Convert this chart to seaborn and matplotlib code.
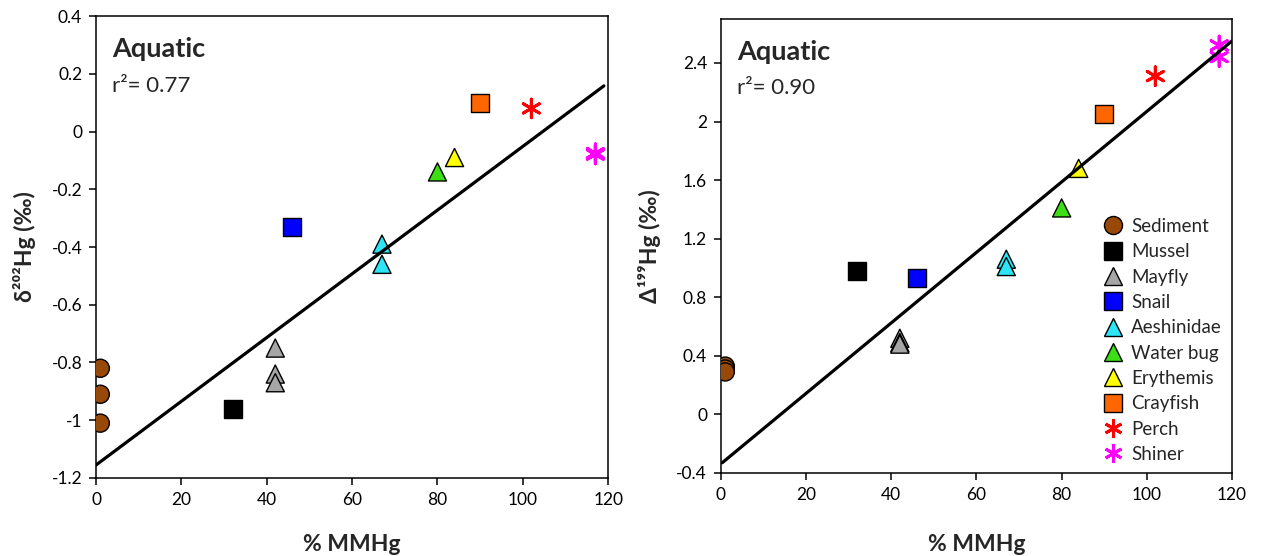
import matplotlib
matplotlib.use("Agg")
import matplotlib.pyplot as plt
from matplotlib.lines import Line2D
from matplotlib.ticker import FixedLocator, FuncFormatter
import pandas as pd
import seaborn as sns

# ---- data -------------------------------------------------------------
taxon = ["Sediment", "Sediment", "Sediment", "Mussel", "Mayfly", "Mayfly", "Mayfly",
         "Snail", "Aeshinidae", "Aeshinidae", "Water bug", "Erythemis", "Crayfish",
         "Perch", "Shiner", "Shiner"]
pct_mmhg = [1, 1, 1, 32, 42, 42, 42, 46, 67, 67, 80, 84, 90, 102, 117, 117]
d202_hg = [-0.82, -0.91, -1.01, -0.96, -0.75, -0.84, -0.87, -0.33, -0.39, -0.46,
           -0.14, -0.09, 0.10, 0.08, -0.075, -0.08]
cap_d199_hg = [0.33, 0.31, 0.29, 0.98, 0.52, 0.49, 0.48, 0.93, 1.06, 1.01,
               1.41, 1.68, 2.05, 2.31, 2.52, 2.44]

# trend-line end points
fit_x_left = [0, 119]
fit_y_left = [-1.155, 0.158]
fit_x_right = [0.3, 120]
fit_y_right = [-0.33, 2.55]

r2_left = "0.77"
r2_right = "0.90"

legend_order = ["Sediment", "Mussel", "Mayfly", "Snail", "Aeshinidae", "Water bug",
                "Erythemis", "Crayfish", "Perch", "Shiner"]
fish = ["Perch", "Shiner"]

x_ticks = [0, 20, 40, 60, 80, 100, 120]
y_ticks_left = [-1.2, -1.0, -0.8, -0.6, -0.4, -0.2, 0.0, 0.2, 0.4]
y_ticks_right = [-0.4, 0.0, 0.4, 0.8, 1.2, 1.6, 2.0, 2.4]

# ---- styling ----------------------------------------------------------
palette = {
    "Sediment": "#984807", "Mussel": "#000000", "Mayfly": "#A6A6A6",
    "Snail": "#0000FF", "Aeshinidae": "#2CE4F5", "Water bug": "#3BDF14",
    "Erythemis": "#FFFF00", "Crayfish": "#FF6600", "Perch": "#FF0000",
    "Shiner": "#FF00FF",
}
markers = {
    "Sediment": "o", "Mussel": "s", "Mayfly": "^", "Snail": "s",
    "Aeshinidae": "^", "Water bug": "^", "Erythemis": "^", "Crayfish": "s",
    "Perch": (6, 2, 0), "Shiner": (6, 2, 0),
}

sns.set_style("ticks")
plt.rcParams["font.family"] = ["Lato", "DejaVu Sans"]
plt.rcParams["axes.unicode_minus"] = False

df = pd.DataFrame({"taxon": taxon, "mmhg": pct_mmhg,
                   "d202": d202_hg, "D199": cap_d199_hg})
solid = df[~df["taxon"].isin(fish)]
fishes = df[df["taxon"].isin(fish)]
solid_order = [t for t in legend_order if t not in fish]
solid_markers = {t: markers[t] for t in solid_order}
fish_markers = {t: markers[t] for t in fish}

fig = plt.figure(figsize=(12.62, 5.56), dpi=100)
ax_l = fig.add_axes([0.0761, 0.1403, 0.4058, 0.8309])
ax_r = fig.add_axes([0.5713, 0.1493, 0.4049, 0.8165])

TICK = 12.5
LEG = 13.5
LABEL = 16.5


def draw_panel(ax, ycol, fx, fy, ylim, yticks, ylabel, r2):
    sns.scatterplot(data=solid, x="mmhg", y=ycol, hue="taxon", style="taxon",
                    hue_order=solid_order, style_order=solid_order,
                    palette=palette, markers=solid_markers, s=170,
                    edgecolor="black", linewidth=1.0, legend=False, ax=ax,
                    zorder=3)
    sns.scatterplot(data=fishes, x="mmhg", y=ycol, hue="taxon", style="taxon",
                    hue_order=fish, style_order=fish, palette=palette,
                    markers=fish_markers, s=180, linewidth=2.1, legend=False,
                    ax=ax, zorder=3)
    sns.lineplot(x=fx, y=fy, color="black", linewidth=2.3, ax=ax, zorder=4)

    ax.set_xlim(0, 120)
    ax.set_ylim(*ylim)
    ax.xaxis.set_major_locator(FixedLocator(x_ticks))
    ax.yaxis.set_major_locator(FixedLocator(yticks))
    ax.yaxis.set_major_formatter(FuncFormatter(lambda v, p: f"{v:g}"))
    ax.xaxis.set_major_formatter(FuncFormatter(lambda v, p: f"{v:g}"))
    ax.tick_params(direction="out", length=5, width=1.1, labelsize=TICK,
                   colors="black", pad=5)
    for sp in ax.spines.values():
        sp.set_visible(True)
        sp.set_linewidth(1.1)
        sp.set_color("black")

    ax.set_xlabel("% MMHg", fontsize=LABEL, fontweight="bold")
    ax.set_ylabel(ylabel, fontsize=LABEL, fontweight="bold")
    ax.text(0.031, 0.928, "Aquatic", transform=ax.transAxes, fontsize=19.5,
            fontweight="bold", va="center", ha="left")
    ax.text(0.031, 0.848, f"r\u00b2= {r2}", transform=ax.transAxes,
            fontsize=16, va="center", ha="left")


draw_panel(ax_l, "d202", fit_x_left, fit_y_left, (-1.2, 0.4), y_ticks_left,
           "\u03b4\u00b2\u2070\u00b2Hg (\u2030)", r2_left)
draw_panel(ax_r, "D199", fit_x_right, fit_y_right, (-0.4, 2.7), y_ticks_right,
           "\u0394\u00b9\u2079\u2079Hg (\u2030)", r2_right)

ax_l.yaxis.set_label_coords(-0.118, 0.5)
ax_r.yaxis.set_label_coords(-0.118, 0.5)
ax_l.xaxis.set_label_coords(0.5, -0.122)
ax_r.xaxis.set_label_coords(0.5, -0.134)

handles = []
for t in legend_order:
    if t in fish:
        h = Line2D([], [], linestyle="None", marker=markers[t], markersize=13,
                   markeredgecolor=palette[t], markeredgewidth=2.1)
    else:
        h = Line2D([], [], linestyle="None", marker=markers[t], markersize=13,
                   markerfacecolor=palette[t], markeredgecolor="black",
                   markeredgewidth=1.0)
    handles.append(h)
ax_r.legend(handles, legend_order, loc="upper left", bbox_to_anchor=(0.749, 0.562),
            frameon=False, handlelength=1.0, handletextpad=0.46,
            labelspacing=0.445, borderaxespad=0, borderpad=0, fontsize=LEG)

fig.savefig("out.png", dpi=100)
